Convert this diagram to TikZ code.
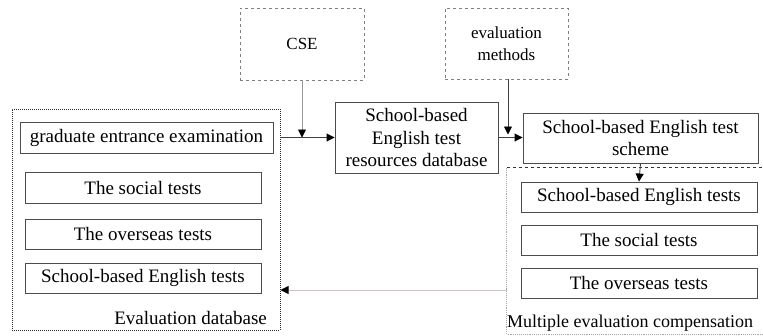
\documentclass[tikz,border=0pt]{standalone}
\usepackage{fontspec}
\setmainfont{Liberation Serif}
\usetikzlibrary{arrows.meta}
\definecolor{paleline}{RGB}{205,195,205}
\begin{document}
\begin{tikzpicture}[x=1pt,y=-1pt,
  every node/.style={font=\fontsize{19}{22.5}\selectfont},
  box/.style={draw=black!70, line width=0.9pt, inner sep=0pt, align=center},
  topbox/.style={draw=black!50, dashed, line width=0.9pt, inner sep=0pt, align=center},
  container/.style={draw=black!85, densely dotted, line width=1pt, inner sep=0pt},
  tip/.style={-{Triangle[length=8pt,width=8pt,color=black]}},
  link/.style={line width=0.9pt, draw=black!75, tip}]
\useasboundingbox (0,0) rectangle (763,335);
% left container
\node[container, minimum width=268pt, minimum height=221pt] (ldb) at (146,219.5) {};
\node[box, minimum width=253pt, minimum height=31pt] (grad) at (146.5,137.5) {graduate entrance examination};
\node[box, minimum width=236pt, minimum height=31pt] (lsoc) at (143,187.5) {The social tests};
\node[box, minimum width=236pt, minimum height=30pt] (lovs) at (143,234) {The overseas tests};
\node[box, minimum width=236pt, minimum height=30pt] (lsbe) at (143,278) {School-based English tests};
\node[anchor=east, inner sep=0pt] (ldbl) at (267,318) {Evaluation database};
% top boxes
\node[topbox, minimum width=124pt, minimum height=72pt, font=\fontsize{17}{22}\selectfont] (cse) at (302,44) {CSE};
\node[topbox, minimum width=123pt, minimum height=71pt, font=\fontsize{17}{22}\selectfont] (evm) at (506.5,43.5) {evaluation\\methods};
% main boxes
\node[box, minimum width=163pt, minimum height=71pt] (main) at (416.5,137.5) {School-based\\English test\\resources database};
\node[box, minimum width=235pt, minimum height=50pt] (sch) at (640.5,138) {School-based English test\\scheme};
% right container
\node[inner sep=0pt, minimum width=268pt, minimum height=166pt] (mec) at (641,251) {};
\draw[black!80, dashed, line width=0.9pt] (mec.north west) -- (mec.north east);
\draw[black!35, densely dotted, line width=0.9pt] (mec.north west) -- (mec.south west) -- (mec.south east);
\node[box, minimum width=236pt, minimum height=30pt] (rsbe) at (639,197) {School-based English tests};
\node[box, minimum width=236pt, minimum height=30pt] (rsoc) at (639,240) {The social tests};
\node[box, minimum width=236pt, minimum height=30pt] (rovs) at (639,283) {The overseas tests};
\node[anchor=west, inner sep=0pt, font=\fontsize{18}{22}\selectfont] (mecl) at (507,323) {Multiple evaluation compensation};
% connectors
\draw[link] (ldb.east |- main.west) -- (main.west);
\draw[link, draw=black!40] (cse.south) -- (cse.south |- main.west);
\draw[link] (main.east) -- (sch.west |- main.east);
\draw[link, shorten >=3pt] ([xshift=1.5pt]evm.south) -- ([xshift=1.5pt]evm.south |- main.east);
\draw[link] (sch.south) -- (rsbe.north);
\coordinate (bstart) at (507,290);
\draw[link, draw=paleline] (bstart) -- (bstart -| ldb.east);
\end{tikzpicture}
\end{document}
